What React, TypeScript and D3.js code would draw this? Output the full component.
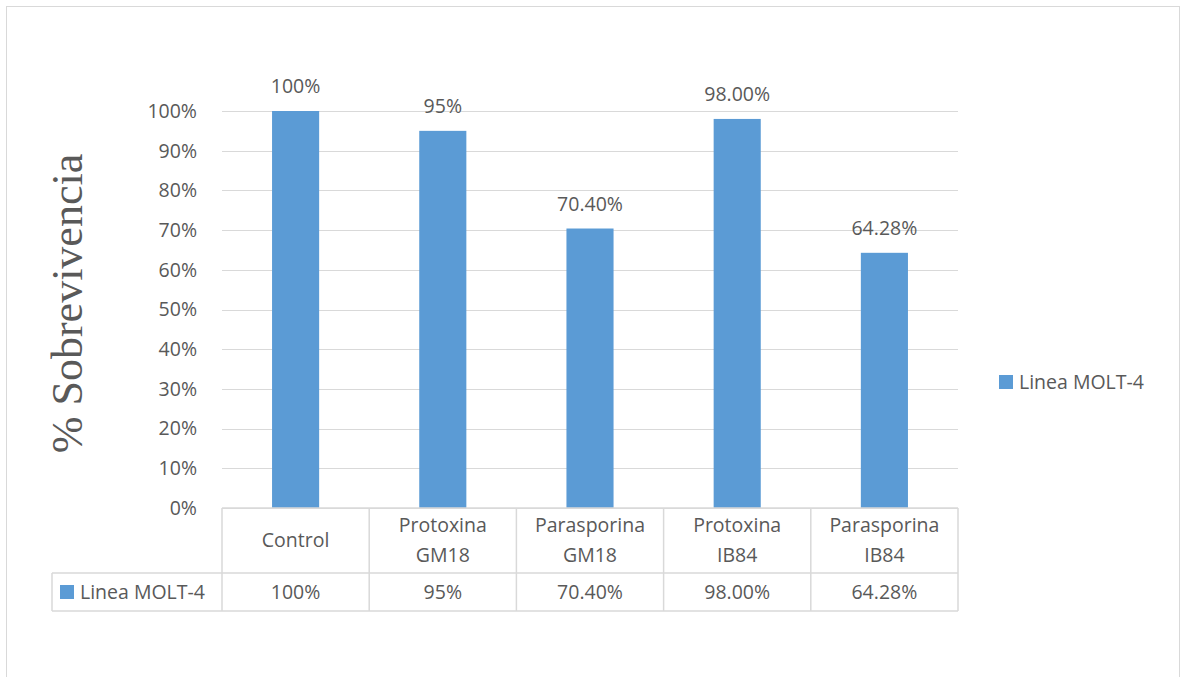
import React, { useRef, useEffect } from "react";
import * as d3 from "d3";

const categories = ["Control", "Protoxina GM18", "Parasporina GM18", "Protoxina IB84", "Parasporina IB84"];
const values = [1.0, 0.95, 0.704, 0.98, 0.6428];
const valueLabels = ["100%", "95%", "70.40%", "98.00%", "64.28%"];
const seriesName = "Linea MOLT-4";
const yTicks = [0, 0.1, 0.2, 0.3, 0.4, 0.5, 0.6, 0.7, 0.8, 0.9, 1.0];

const W = 1180;
const H = 677;
const FONT = "'Open Sans', 'Noto Sans', sans-serif";
const FS = 19.5;
const TEXT = "#595959";
const GRID = "#d9d9d9";
const BLUE = "#5b9bd5";

const App = () => {
  const svgRef = useRef<SVGSVGElement | null>(null);

  useEffect(() => {
    const svg = d3.select(svgRef.current);
    svg.selectAll("*").remove();

    const left = 222, right = 958, top = 111, bottom = 508;
    const x = d3.scaleBand().domain(categories).range([left, right]).paddingInner(0).paddingOuter(0);
    const y = d3.scaleLinear().domain([0, 1]).range([bottom, top]);
    const barW = x.bandwidth() * 0.32;

    // chart border
    svg.append("rect")
      .attr("x", 6.5).attr("y", 6.5)
      .attr("width", 1173).attr("height", 700)
      .attr("fill", "#fff").attr("stroke", GRID).attr("stroke-width", 1);

    // gridlines
    svg.append("g").selectAll("line")
      .data(yTicks)
      .join("line")
      .attr("x1", left).attr("x2", right)
      .attr("y1", d => Math.round(y(d)) + 0.5).attr("y2", d => Math.round(y(d)) + 0.5)
      .attr("stroke", GRID).attr("stroke-width", 1);

    // y tick labels
    svg.append("g").selectAll("text")
      .data(yTicks)
      .join("text")
      .attr("x", 197).attr("y", d => y(d))
      .attr("dy", "0.35em")
      .attr("text-anchor", "end")
      .attr("font-family", FONT).attr("font-size", FS)
      .attr("fill", TEXT)
      .text(d => d3.format(".0%")(d));

    // bars
    svg.append("g").selectAll("rect")
      .data(values)
      .join("rect")
      .attr("x", (d, i) => x(categories[i])! + x.bandwidth() / 2 - barW / 2)
      .attr("y", d => y(d))
      .attr("width", barW)
      .attr("height", d => bottom - y(d))
      .attr("fill", BLUE);

    // data labels
    svg.append("g").selectAll("text")
      .data(values)
      .join("text")
      .attr("x", (d, i) => x(categories[i])! + x.bandwidth() / 2)
      .attr("y", d => y(d) - 18)
      .attr("text-anchor", "middle")
      .attr("font-family", FONT).attr("font-size", FS)
      .attr("fill", TEXT)
      .text((d, i) => valueLabels[i]);

    // data table
    const rowTop = bottom, rowMid = 573, rowBot = 611, tableLeft = 52;
    const t = svg.append("g").attr("stroke", GRID).attr("stroke-width", 1.5).attr("fill", "none");
    t.append("line").attr("x1", left).attr("x2", right).attr("y1", rowTop).attr("y2", rowTop);
    t.append("line").attr("x1", tableLeft).attr("x2", right).attr("y1", rowMid).attr("y2", rowMid);
    t.append("line").attr("x1", tableLeft).attr("x2", right).attr("y1", rowBot).attr("y2", rowBot);
    t.append("line").attr("x1", tableLeft).attr("x2", tableLeft).attr("y1", rowMid).attr("y2", rowBot);
    const vlines = categories.map(c => x(c)!).concat([right]);
    t.selectAll("line.v")
      .data(vlines)
      .join("line")
      .attr("class", "v")
      .attr("x1", d => d).attr("x2", d => d)
      .attr("y1", rowTop).attr("y2", rowBot);

    // header labels
    categories.forEach(c => {
      const cx = x(c)! + x.bandwidth() / 2;
      const words = c.split(" ");
      const txt = svg.append("text")
        .attr("text-anchor", "middle")
        .attr("font-family", FONT).attr("font-size", FS)
        .attr("fill", TEXT);
      if (words.length === 1) {
        txt.append("tspan").attr("x", cx).attr("y", 547).text(c);
      } else {
        txt.append("tspan").attr("x", cx).attr("y", 532).text(words[0]);
        txt.append("tspan").attr("x", cx).attr("y", 562).text(words[1]);
      }
    });

    // value row
    svg.append("g").selectAll("text")
      .data(valueLabels)
      .join("text")
      .attr("x", (d, i) => x(categories[i])! + x.bandwidth() / 2)
      .attr("y", 599)
      .attr("text-anchor", "middle")
      .attr("font-family", FONT).attr("font-size", FS)
      .attr("fill", TEXT)
      .text(d => d);

    svg.append("rect").attr("x", 60).attr("y", 585).attr("width", 14).attr("height", 14).attr("fill", BLUE);
    svg.append("text")
      .attr("x", 80).attr("y", 599)
      .attr("font-family", FONT).attr("font-size", FS)
      .attr("fill", TEXT)
      .text(seriesName);

    // legend
    svg.append("rect").attr("x", 999).attr("y", 375).attr("width", 14).attr("height", 14).attr("fill", BLUE);
    svg.append("text")
      .attr("x", 1019).attr("y", 389)
      .attr("font-family", FONT).attr("font-size", FS)
      .attr("fill", TEXT)
      .text(seriesName);

    // y axis title
    svg.append("text")
      .attr("transform", `translate(82, ${(top + bottom) / 2 - 6}) rotate(-90)`)
      .attr("text-anchor", "middle")
      .attr("font-family", "'Liberation Serif', 'DejaVu Serif', serif")
      .attr("font-size", 44)
      .attr("fill", TEXT)
      .text("% Sobrevivencia");
  }, []);

  return (
    <svg ref={svgRef} width={W} height={H} style={{ display: "block", position: "absolute", left: 0, top: 0 }} />
  );
};

export default App;
